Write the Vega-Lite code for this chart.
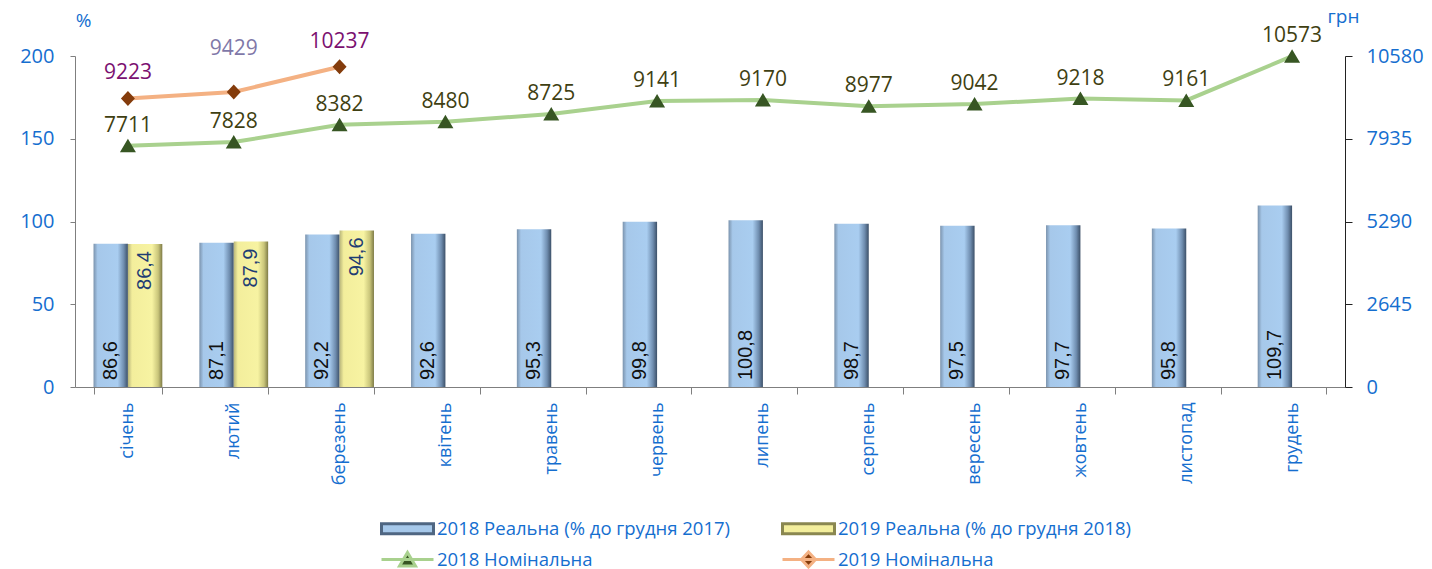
{
  "$schema": "https://vega.github.io/schema/vega-lite/v6.json",
  "width": 1270,
  "height": 331,
  "autosize": {"type": "none"},
  "padding": {"left": 75, "top": 56, "right": 87, "bottom": 182},
  "background": "white",
  "config": {"view": {"stroke": null}, "font": "Open Sans"},
  "datasets": {
    "bars": [
      {"month": "січень", "year": "2018", "real": 86.6, "label": "86,6"},
      {"month": "лютий", "year": "2018", "real": 87.1, "label": "87,1"},
      {"month": "березень", "year": "2018", "real": 92.2, "label": "92,2"},
      {"month": "квітень", "year": "2018", "real": 92.6, "label": "92,6"},
      {"month": "травень", "year": "2018", "real": 95.3, "label": "95,3"},
      {"month": "червень", "year": "2018", "real": 99.8, "label": "99,8"},
      {"month": "липень", "year": "2018", "real": 100.8, "label": "100,8"},
      {"month": "серпень", "year": "2018", "real": 98.7, "label": "98,7"},
      {"month": "вересень", "year": "2018", "real": 97.5, "label": "97,5"},
      {"month": "жовтень", "year": "2018", "real": 97.7, "label": "97,7"},
      {"month": "листопад", "year": "2018", "real": 95.8, "label": "95,8"},
      {"month": "грудень", "year": "2018", "real": 109.7, "label": "109,7"},
      {"month": "січень", "year": "2019", "real": 86.4, "label": "86,4"},
      {"month": "лютий", "year": "2019", "real": 87.9, "label": "87,9"},
      {"month": "березень", "year": "2019", "real": 94.6, "label": "94,6"}
    ],
    "lines": [
      {"month": "січень", "series": "2018 Номінальна", "nominal": 7711},
      {"month": "лютий", "series": "2018 Номінальна", "nominal": 7828},
      {"month": "березень", "series": "2018 Номінальна", "nominal": 8382},
      {"month": "квітень", "series": "2018 Номінальна", "nominal": 8480},
      {"month": "травень", "series": "2018 Номінальна", "nominal": 8725},
      {"month": "червень", "series": "2018 Номінальна", "nominal": 9141},
      {"month": "липень", "series": "2018 Номінальна", "nominal": 9170},
      {"month": "серпень", "series": "2018 Номінальна", "nominal": 8977},
      {"month": "вересень", "series": "2018 Номінальна", "nominal": 9042},
      {"month": "жовтень", "series": "2018 Номінальна", "nominal": 9218},
      {"month": "листопад", "series": "2018 Номінальна", "nominal": 9161},
      {"month": "грудень", "series": "2018 Номінальна", "nominal": 10573},
      {"month": "січень", "series": "2019 Номінальна", "nominal": 9223},
      {"month": "лютий", "series": "2019 Номінальна", "nominal": 9429},
      {"month": "березень", "series": "2019 Номінальна", "nominal": 10237}
    ]
  },
  "layer": [
    {
      "layer": [
        {
          "data": {"name": "bars"},
          "transform": [{"filter": "datum.year === '2018'"}],
          "mark": {"type": "bar", "color": {"gradient": "linear", "x1": 0, "x2": 1, "y1": 0, "y2": 0, "stops": [{"offset": 0, "color": "#7b93ad"}, {"offset": 0.12, "color": "#a6c8ea"}, {"offset": 0.7, "color": "#a9cdf0"}, {"offset": 0.88, "color": "#6f8daf"}, {"offset": 1, "color": "#3c5068"}]}},
          "encoding": {
            "x": {
              "field": "month", "type": "nominal",
              "scale": {"domain": ["січень","лютий","березень","квітень","травень","червень","липень","серпень","вересень","жовтень","листопад","грудень"], "paddingInner": 0.35, "paddingOuter": 0.175},
              "axis": {"title": null, "labelAngle": 270, "labelFontSize": 18, "labelColor": "#156ecf", "labelFont": "Open Sans", "labelPadding": 8, "tickBand": "extent", "tickSize": 7, "tickColor": "#7f7f7f", "domainColor": "#7f7f7f", "grid": false, "labelLimit": 200}
            },
            "xOffset": {"field": "year", "type": "nominal", "scale": {"domain": ["2018", "2019"], "paddingInner": 0}},
            "y": {
              "field": "real", "type": "quantitative",
              "scale": {"domain": [0, 200], "nice": false},
              "axis": {"values": [0, 50, 100, 150, 200], "grid": false, "title": "%", "titleAngle": 0, "titleX": 8, "titleY": -36, "titleAlign": "center", "titleBaseline": "middle", "titleColor": "#156ecf", "titleFontSize": 19, "titleFontWeight": "normal", "titleFont": "Open Sans", "labelFontSize": 20, "labelColor": "#156ecf", "labelFont": "Open Sans", "labelPadding": 16, "tickSize": 5, "tickColor": "#7f7f7f", "domainColor": "#7f7f7f"}
            }
          }
        },
        {
          "data": {"name": "bars"},
          "transform": [{"filter": "datum.year === '2019'"}],
          "mark": {"type": "bar", "color": {"gradient": "linear", "x1": 0, "x2": 1, "y1": 0, "y2": 0, "stops": [{"offset": 0, "color": "#b8b57a"}, {"offset": 0.12, "color": "#f3ee9c"}, {"offset": 0.7, "color": "#f7f3a2"}, {"offset": 0.88, "color": "#c9c57a"}, {"offset": 1, "color": "#7e7b47"}]}},
          "encoding": {
            "x": {"field": "month", "type": "nominal"},
            "xOffset": {"field": "year", "type": "nominal"},
            "y": {"field": "real", "type": "quantitative"}
          }
        },
        {
          "data": {"name": "bars"},
          "transform": [{"filter": "datum.year === '2018'"}],
          "mark": {"type": "text", "angle": 270, "align": "left", "baseline": "middle", "dx": 7, "font": "Liberation Sans", "fontSize": 20, "color": "#111111"},
          "encoding": {
            "x": {"field": "month", "type": "nominal"},
            "xOffset": {"field": "year", "type": "nominal"},
            "y": {"datum": 0, "type": "quantitative"},
            "text": {"field": "label"}
          }
        },
        {
          "data": {"name": "bars"},
          "transform": [{"filter": "datum.year === '2019'"}],
          "mark": {"type": "text", "angle": 270, "align": "right", "baseline": "middle", "dx": -7, "font": "Liberation Sans", "fontSize": 20, "color": "#1f3d73"},
          "encoding": {
            "x": {"field": "month", "type": "nominal"},
            "xOffset": {"field": "year", "type": "nominal"},
            "y": {"field": "real", "type": "quantitative"},
            "text": {"field": "label"}
          }
        }
      ]
    },
    {
      "layer": [
        {
          "data": {"name": "lines"},
          "mark": {"type": "line", "strokeWidth": 4},
          "encoding": {
            "x": {"field": "month", "type": "nominal"},
            "y": {
              "field": "nominal", "type": "quantitative",
              "scale": {"domain": [0, 10580], "nice": false},
              "axis": {"orient": "right", "values": [0, 2645, 5290, 7935, 10580], "format": "d", "grid": false, "title": "грн", "titleAngle": 0, "titleX": -2, "titleY": -40, "titleAlign": "center", "titleBaseline": "middle", "titleColor": "#156ecf", "titleFontSize": 19, "titleFontWeight": "normal", "titleFont": "Open Sans", "labelFontSize": 20, "labelColor": "#156ecf", "labelFont": "Open Sans", "labelPadding": 14, "tickSize": 7, "tickColor": "#222222", "domainColor": "#222222"}
            },
            "stroke": {
              "field": "series", "type": "nominal",
              "scale": {"domain": ["2018 Реальна (% до грудня 2017)", "2018 Номінальна", "2019 Реальна (% до грудня 2018)", "2019 Номінальна"], "range": ["#4f6682", "#a9d18e", "#8a8750", "#f4b183"]},
              "legend": {
                "title": null, "orient": "none", "legendX": 321, "legendY": 461, "columns": 2, "columnPadding": 45, "rowPadding": 6,
                "symbolSize": 400, "symbolStrokeWidth": 3, "symbolOpacity": 1, "labelOffset": 18, "labelFont": "Open Sans", "labelFontSize": 18.5, "labelColor": "#156ecf", "labelLimit": 500
              }
            }
          }
        },
        {
          "data": {"name": "lines"},
          "mark": {"type": "point", "filled": true, "size": 400, "opacity": 1, "strokeWidth": 0},
          "encoding": {
            "x": {"field": "month", "type": "nominal"},
            "y": {"field": "nominal", "type": "quantitative"},
            "fill": {"field": "series", "type": "nominal", "scale": {"domain": ["2018 Реальна (% до грудня 2017)", "2018 Номінальна", "2019 Реальна (% до грудня 2018)", "2019 Номінальна"], "range": ["#a6c8ea", "#375623", "#f3ee9c", "#843c0c"]}},
            "shape": {"field": "series", "type": "nominal", "scale": {"domain": ["2018 Реальна (% до грудня 2017)", "2018 Номінальна", "2019 Реальна (% до грудня 2018)", "2019 Номінальна"], "range": ["M-2.6,-0.5H2.6V0.5H-2.6Z", "M-2.6,0H2.6M-0.8,0.65L0,-0.7L0.8,0.65Z", "M-2.6,-0.5H2.6V0.5H-2.6Z", "M-2.6,0H2.6M0,-0.75L0.7,0L0,0.75L-0.7,0Z"]}}
          }
        },
        {
          "data": {"name": "lines"},
          "transform": [{"filter": "datum.series === '2018 Номінальна'"}],
          "mark": {"type": "text", "dy": -20, "fontSize": 21, "font": "Open Sans", "color": "#3f3f12"},
          "encoding": {
            "x": {"field": "month", "type": "nominal"},
            "y": {"field": "nominal", "type": "quantitative"},
            "text": {"field": "nominal", "type": "quantitative", "format": "d"}
          }
        },
        {
          "data": {"name": "lines"},
          "transform": [{"filter": "datum.series === '2019 Номінальна' && datum.month !== 'лютий'"}],
          "mark": {"type": "text", "dy": -25, "fontSize": 21, "font": "Open Sans", "color": "#7b1070"},
          "encoding": {
            "x": {"field": "month", "type": "nominal"},
            "y": {"field": "nominal", "type": "quantitative"},
            "text": {"field": "nominal", "type": "quantitative", "format": "d"}
          }
        },
        {
          "data": {"name": "lines"},
          "transform": [{"filter": "datum.series === '2019 Номінальна' && datum.month === 'лютий'"}],
          "mark": {"type": "text", "dy": -43, "fontSize": 21, "font": "Open Sans", "color": "#7f78a8"},
          "encoding": {
            "x": {"field": "month", "type": "nominal"},
            "y": {"field": "nominal", "type": "quantitative"},
            "text": {"field": "nominal", "type": "quantitative", "format": "d"}
          }
        }
      ]
    }
  ],
  "resolve": {"scale": {"y": "independent"}}
}
